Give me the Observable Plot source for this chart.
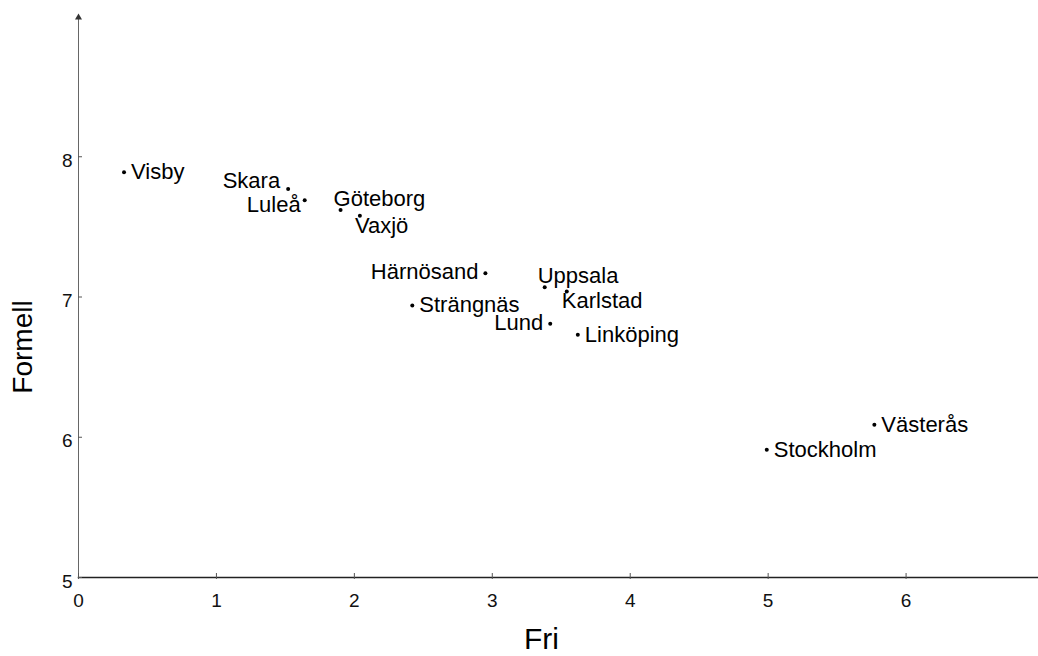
<!DOCTYPE html>
<html>
<head>
<meta charset="utf-8">
<script src="https://cdn.jsdelivr.net/npm/d3@7"></script>
<script src="https://cdn.jsdelivr.net/npm/@observablehq/plot@0.6"></script>
<style>
  html, body { margin: 0; padding: 0; background: #fff; }
  #chart svg { display: block; }
</style>
</head>
<body>
<div id="chart"></div>
<script>
// Data
const cities   = ["Visby", "Skara", "Luleå", "Göteborg", "Vaxjö", "Härnösand", "Uppsala", "Karlstad", "Strängnäs", "Lund", "Linköping", "Västerås", "Stockholm"];
const fri      = [0.33, 1.52, 1.64, 1.90, 2.04, 2.95, 3.38, 3.54, 2.42, 3.42, 3.62, 5.77, 4.99];
const formell  = [7.89, 7.77, 7.69, 7.62, 7.58, 7.17, 7.07, 7.04, 6.94, 6.81, 6.73, 6.09, 5.91];
const placement = ["right", "upperLeft", "lowerLeft", "above", "below", "left", "above", "below", "right", "left", "right", "right", "right"];
const xTicks = [0, 1, 2, 3, 4, 5, 6];
const yTicks = [5, 6, 7, 8];
const xLabel = "Fri";
const yLabel = "Formell";

const rows = cities.map((c, i) => ({city: c, fri: fri[i], formell: formell[i], place: placement[i]}));

const placeStyle = {
  right:     {textAnchor: "start", dx: 7,  dy: 0},
  left:      {textAnchor: "end",   dx: -7, dy: -1},
  upperLeft: {textAnchor: "end",   dx: -8, dy: -8},
  lowerLeft: {textAnchor: "end",   dx: -4, dy: 5},
  above:     {textAnchor: "start", dx: -7, dy: -11},
  below:     {textAnchor: "start", dx: -5, dy: 10}
};

const font = "Liberation Sans, Arial, Helvetica, sans-serif";

const labelMarks = Object.entries(placeStyle).map(([key, s]) =>
  Plot.text(rows.filter(d => d.place === key), {
    x: "fri", y: "formell", text: "city",
    textAnchor: s.textAnchor, dx: s.dx, dy: s.dy,
    fontSize: 22, fill: "#000"
  })
);

const fmt = d3.format("d");

const chart = Plot.plot({
  width: 1038,
  height: 656,
  marginLeft: 78,
  marginRight: 0,
  marginTop: 16,
  marginBottom: 79,
  style: {fontFamily: font, background: "#fff", overflow: "visible"},
  x: {domain: [0, 6.96], axis: null, label: null},
  y: {domain: [5, 9], axis: null, label: null},
  marks: [
    // axis lines
    Plot.frame({anchor: "left", stroke: "#666", strokeWidth: 1}),
    Plot.frame({anchor: "bottom", stroke: "#222", strokeWidth: 1.5}),
    // arrow head at the top of the y axis
    Plot.dot([0], {frameAnchor: "top-left", symbol: "triangle", r: 2.6, fill: "#333", stroke: "none", dy: 1}),
    // tick marks
    Plot.axisX({ticks: xTicks, tickSize: 6, dy: -4, tickFormat: () => "", stroke: "#555", label: null}),
    Plot.axisY({ticks: yTicks, tickSize: 4, dx: 4, tickFormat: () => "", stroke: "#555", label: null}),
    // tick labels
    Plot.axisX({ticks: xTicks, tickSize: 0, tickPadding: 16, tickFormat: fmt, fontSize: 19, fill: "#111", label: null}),
    Plot.axisY({ticks: yTicks, tickSize: 0, tickPadding: 6, dy: 4, tickFormat: fmt, fontSize: 19, fill: "#111", label: null}),
    // axis titles
    Plot.text([xLabel], {frameAnchor: "bottom", textAnchor: "middle", lineAnchor: "middle", text: d => d, dy: 62, dx: -17, fontSize: 30, fill: "#000"}),
    Plot.text([yLabel], {frameAnchor: "left", textAnchor: "middle", lineAnchor: "middle", text: d => d, rotate: -90, dx: -55, dy: 50, fontSize: 28, fill: "#000"}),
    // points
    Plot.dot(rows, {x: "fri", y: "formell", r: 2, fill: "#000", stroke: "none"}),
    ...labelMarks
  ]
});

document.getElementById("chart").appendChild(chart);
</script>
</body>
</html>
